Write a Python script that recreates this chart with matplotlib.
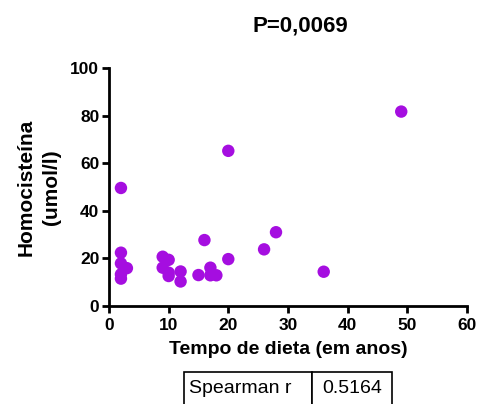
import numpy as np
import matplotlib.pyplot as plt

plt.rcParams['font.family'] = ['Liberation Sans', 'DejaVu Sans']

# tempo de dieta (anos) e homocisteina (umol/l)
tempo = [2, 2, 2, 3, 2, 2, 9, 10, 9, 10, 10, 12, 12, 15, 16, 17, 17, 18, 20, 20, 26, 28, 36, 49]
homocist = [49.6, 22.4, 17.9, 15.9, 13.3, 11.5, 20.7, 19.4, 16.1, 14.0, 12.6, 14.5, 10.3,
            13.0, 27.7, 16.1, 12.9, 12.9, 65.2, 19.7, 23.8, 31.0, 14.4, 81.7]
x_ticks = [0, 10, 20, 30, 40, 50, 60]
y_ticks = [0, 20, 40, 60, 80, 100]
spearman_r = '0.5164'
p_text = 'P=0,0069'

fig = plt.figure(figsize=(4.79, 4.04), dpi=100)
ax = fig.add_axes([0.2276, 0.2426, 0.747, 0.589])

ax.scatter(tempo, homocist, s=80, color='#a50ee0', edgecolors='none', zorder=3, clip_on=False)

ax.set_xlim(0, 60)
ax.set_ylim(0, 100)
ax.set_xticks(x_ticks)
ax.set_yticks(y_ticks)
for s in ['top', 'right']:
    ax.spines[s].set_visible(False)
for s in ['left', 'bottom']:
    ax.spines[s].set_linewidth(2)
ax.tick_params(width=2, length=5, labelsize=12.5, pad=2)
ax.tick_params(axis='x', pad=3.5)
for lab in ax.get_xticklabels() + ax.get_yticklabels():
    lab.set_fontweight('bold')

ax.set_xlabel('Tempo de dieta (em anos)', fontsize=14, fontweight='bold', labelpad=6)
ax.set_ylabel('Homocisteína\n(umol/l)', fontsize=15, fontweight='bold', labelpad=7,
              linespacing=1.4)
ax.set_title(p_text, fontsize=16, fontweight='bold', pad=26, x=0.535)

tab = ax.table(cellText=[['Spearman r', spearman_r]], colWidths=[0.358, 0.224],
               bbox=[0.21, -0.42, 0.582, 0.143])
tab.auto_set_font_size(False)
tab.set_fontsize(14)
cells = tab.get_celld()
cells[(0, 0)].set_text_props(ha='left')
cells[(0, 0)].PAD = 0.04
cells[(0, 1)].set_text_props(ha='center')
cells[(0, 1)]._loc = 'center'
for key, cell in cells.items():
    cell.set_linewidth(1.2)

fig.savefig('out.png', dpi=100)
